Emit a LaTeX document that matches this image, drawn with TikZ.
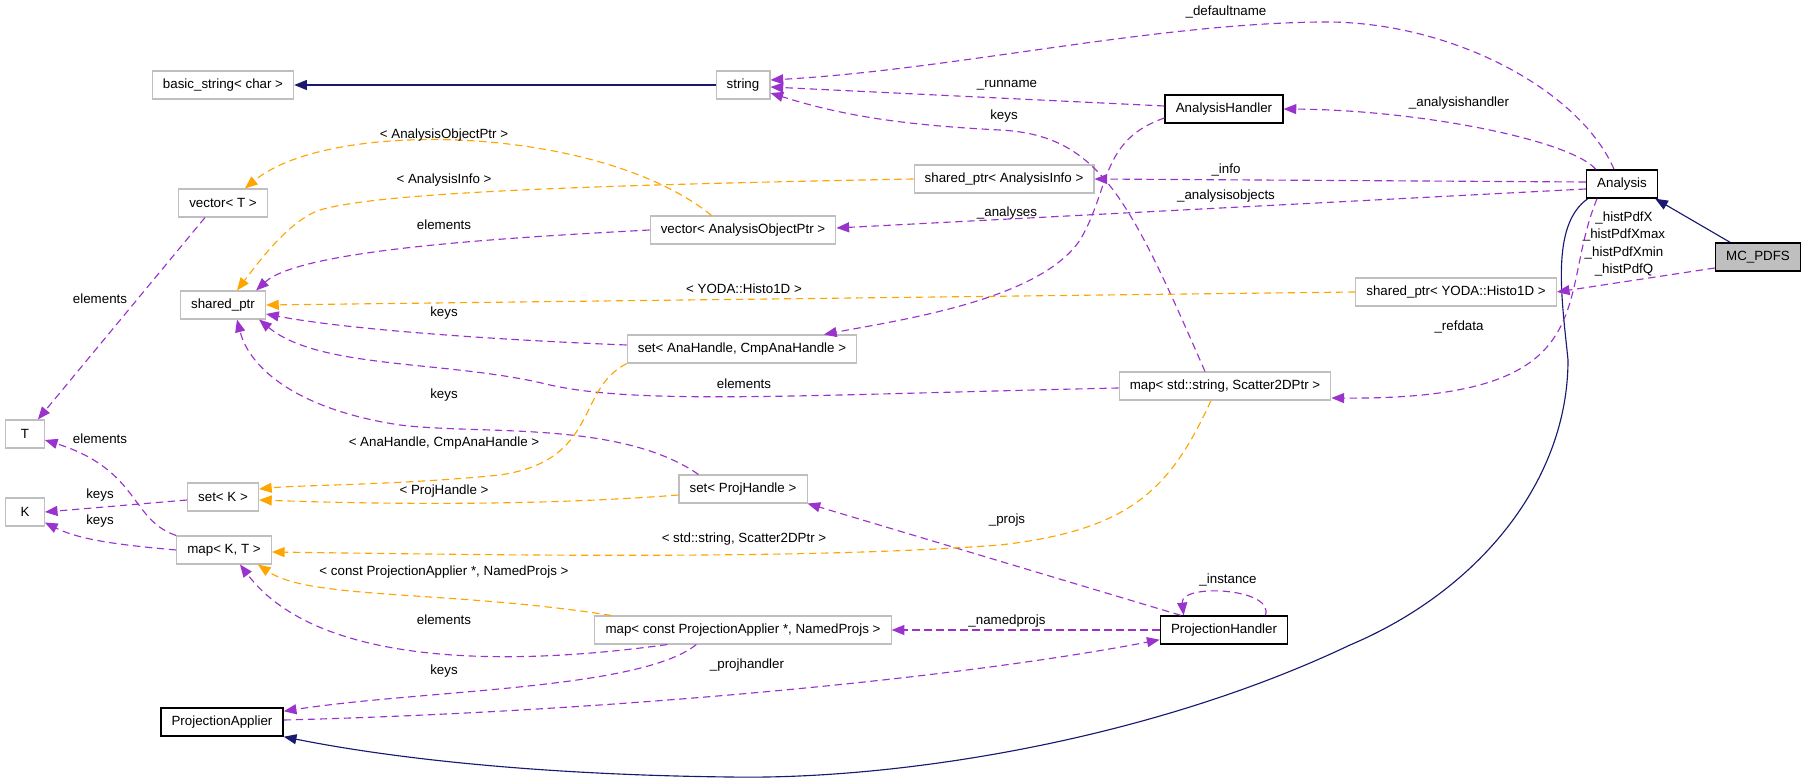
\documentclass[tikz,border=0pt]{standalone}
\usepackage{fontspec}
\setmainfont{Liberation Sans}
\usetikzlibrary{arrows.meta,calc}
\definecolor{edgeblue}{HTML}{191970}
\definecolor{edgepurple}{HTML}{9A32CD}
\definecolor{edgeorange}{HTML}{FFA500}
\definecolor{boxgray}{HTML}{BFBFBF}
\tikzset{
  cls/.style={draw=black,line width=1.1pt,fill=white,inner xsep=8pt,inner ysep=0pt,minimum height=21pt,font=\fontsize{10}{12}\selectfont},
  ext/.style={cls,draw=boxgray,line width=0.8pt},
  cur/.style={cls,fill=boxgray},
  lbl/.style={inner sep=0pt,align=center,font=\fontsize{10}{13}\selectfont},
  tip/.style={-{Triangle[length=9.5pt,width=7.5pt]}},
  inh/.style={tip,draw=edgeblue,line width=0.85pt},
  use/.style={tip,draw=edgepurple,line width=0.85pt,dash pattern=on 5.5pt off 3.5pt},
  tpl/.style={tip,draw=edgeorange,line width=0.85pt,dash pattern=on 5.5pt off 3.5pt}
}
\begin{document}
\begin{tikzpicture}[x=0.75pt,y=-0.75pt]
\useasboundingbox (0,0) rectangle (1808,784);
\node[ext] (bstr) at (223,85) {basic\_string< char >};
\node[ext] (str) at (743,85) {string};
\node[cls] (ahandler) at (1224,109) {AnalysisHandler};
\node[ext] (spinfo) at (1004,179) {shared\_ptr< AnalysisInfo >};
\node[cls] (ana) at (1622,184) {Analysis};
\node[ext] (vect) at (223,203) {vector< T >};
\node[ext] (vecaop) at (743,230) {vector< AnalysisObjectPtr >};
\node[cur] (mcpdfs) at (1758,257) {MC\_PDFS};
\node[ext] (sphisto) at (1456,292) {shared\_ptr< YODA::Histo1D >};
\node[ext] (sptr) at (223,305) {shared\_ptr};
\node[ext] (setana) at (742,349) {set< AnaHandle, CmpAnaHandle >};
\node[ext] (mapsc) at (1225,386) {map< std::string, Scatter2DPtr >};
\node[ext,minimum width=29pt] (tnode) at (25,434) {T};
\node[ext] (setk) at (223,497) {set< K >};
\node[ext] (setproj) at (743,489) {set< ProjHandle >};
\node[ext,minimum width=29pt] (knode) at (25,512) {K};
\node[ext] (mapkt) at (224,550) {map< K, T >};
\node[ext] (mappa) at (743,630) {map< const ProjectionApplier *, NamedProjs >};
\node[cls] (phandler) at (1224,630) {ProjectionHandler};
\node[cls] (papplier) at (222,722) {ProjectionApplier};

\draw[inh] (str) -- (bstr);
\draw[inh] ($(mcpdfs.north)+(-28,0)$) -- ($(ana.south east)+(-3,0)$);
\draw[inh] ($(ana.south west)+(2,0)$) .. controls (1550,225) and (1562,300) .. (1568,360) .. controls (1568,480) and (1480,590) .. (1350,645) .. controls (1150,740) and (900,780) .. (730,777) .. controls (550,775) and (400,760) .. (papplier.south east);

\draw[use] ($(ana.north)+(-8,0)$) .. controls (1580,90) and (1450,20) .. (1320,22) .. controls (1150,24) and (950,70) .. ($(str.east)+(0,-5)$);
\draw[use] ($(ahandler.west)+(0,-3)$) -- ($(str.east)+(0,2)$);
\draw[use] ($(mapsc.north)+(-20,0)$) .. controls (1130,200) and (1100,135) .. (1000,130) .. controls (900,125) and (840,115) .. ($(str.east)+(0,8)$);
\draw[use] ($(ana.north west)+(10,0)$) .. controls (1570,140) and (1420,110) .. (ahandler.east);
\draw[use] ($(ana.west)+(0,-2)$) -- (spinfo.east);
\draw[use] ($(ana.west)+(0,5)$) -- ($(vecaop.east)+(0,-2)$);
\draw[use] ($(mcpdfs.west)+(0,11)$) -- (sphisto.east);
\draw[use] ($(ana.south)+(-25,0)$) .. controls (1555,300) and (1610,400) .. ($(mapsc.east)+(0,12)$);
\draw[use] ($(ahandler.west)+(0,9)$) .. controls (1100,140) and (1110,190) .. (1080,240) .. controls (1040,300) and (900,320) .. ($(setana.north)+(82,0)$);
\draw[use] (vecaop.west) .. controls (500,238) and (300,250) .. ($(sptr.north east)+(-10,0)$);
\draw[use] ($(setana.west)+(0,-4)$) .. controls (500,340) and (350,330) .. ($(sptr.east)+(0,9)$);
\draw[use] ($(mapsc.west)+(0,2)$) .. controls (800,395) and (640,405) .. (550,385) .. controls (450,360) and (320,370) .. ($(sptr.south east)+(-7,0)$);
\draw[use] ($(setproj.north west)+(20,0)$) .. controls (620,420) and (480,435) .. (400,425) .. controls (300,410) and (250,370) .. ($(sptr.south)+(14,0)$);
\draw[use] ($(vect.south)+(-18,0)$) -- ($(tnode.north east)+(-7,0)$);
\draw[use] (mapkt.north west) .. controls (130,520) and (140,470) .. ($(tnode.east)+(0,6)$);
\draw[use] ($(setk.west)+(0,3)$) -- (knode.east);
\draw[use] (mapkt.west) .. controls (120,545) and (80,540) .. ($(knode.south east)+(0,-4)$);
\draw[use] ($(phandler.north west)+(21,0)$) -- (setproj.south east);
\draw[use] ($(phandler.north east)+(-23,0)$) .. controls (1275,588) and (1180,583) .. ($(phandler.north west)+(24,0)$);
\draw[use] (phandler.west) -- (mappa.east);
\draw[use] ($(mappa.south west)+(73,0)$) .. controls (520,665) and (320,670) .. ($(mapkt.south)+(16,0)$);
\draw[use] ($(mappa.south west)+(102,0)$) .. controls (640,690) and (420,690) .. ($(papplier.north east)+(0,4)$);
\draw[use] ($(papplier.east)+(0,-2)$) .. controls (600,712) and (950,680) .. ($(phandler.south west)+(0,-5)$);

\draw[tpl] ($(vecaop.north west)+(62,0)$) .. controls (600,125) and (330,118) .. ($(vect.north east)+(-23,0)$);
\draw[tpl] (spinfo.west) .. controls (600,185) and (380,192) .. (320,210) .. controls (290,220) and (260,260) .. ($(sptr.north)+(14,0)$);
\draw[tpl] (sphisto.west) -- (sptr.east);
\draw[tpl] (setana.south west) .. controls (575,390) and (600,460) .. (500,475) .. controls (400,485) and (300,485) .. ($(setk.east)+(0,-8)$);
\draw[tpl] ($(setproj.west)+(0,6)$) .. controls (550,505) and (400,505) .. ($(setk.east)+(0,3)$);
\draw[tpl] ($(mapsc.south)+(-14,0)$) .. controls (1170,490) and (1130,530) .. (1000,545) .. controls (800,560) and (500,555) .. ($(mapkt.east)+(0,2)$);
\draw[tpl] ($(mappa.north west)+(17,0)$) .. controls (450,590) and (310,600) .. ($(mapkt.south east)+(-14,0)$);

\foreach \n/\x/\y/\t in {ldefault/1226/12/{\_defaultname}, lrun/1007/85/{\_runname},
  lkeysstr/1004/116/keys, lahandler/1459/103/{\_analysishandler},
  laop/444/135/{< AnalysisObjectPtr >}, linfotpl/444/180/{< AnalysisInfo >},
  linfo/1226/170/{\_info}, laobj/1226/196/{\_analysisobjects},
  lanalyses/1007/213/{\_analyses}, lelemaop/444/225/elements,
  lelemt/100/299/elements, lyoda/744/289/{< YODA::Histo1D >},
  lkeysana/444/313/keys, lrefdata/1459/327/{\_refdata},
  lelemsc/744/384/elements, lkeysproj/444/395/keys,
  lelemkt/100/439/elements, lanahandle/444/443/{< AnaHandle, CmpAnaHandle >},
  lprojhandle/444/491/{< ProjHandle >}, lkeyssetk/100/495/keys,
  lkeysmapkt/100/521/keys, lprojs/1007/520/{\_projs},
  lstdstring/744/539/{< std::string, Scatter2DPtr >},
  lconstpa/444/572/{< const ProjectionApplier *, NamedProjs >},
  linstance/1228/580/{\_instance}, lelempa/444/620/elements,
  lnamedprojs/1007/621/{\_namedprojs}, lprojhandler/747/665/{\_projhandler},
  lkeyspa/444/671/keys}
  \node[lbl] (\n) at (\x,\y) {\t};
\node[lbl] (lhist) at (1624,244) {\_histPdfX\\\_histPdfXmax\\\_histPdfXmin\\\_histPdfQ};
\end{tikzpicture}
\end{document}
